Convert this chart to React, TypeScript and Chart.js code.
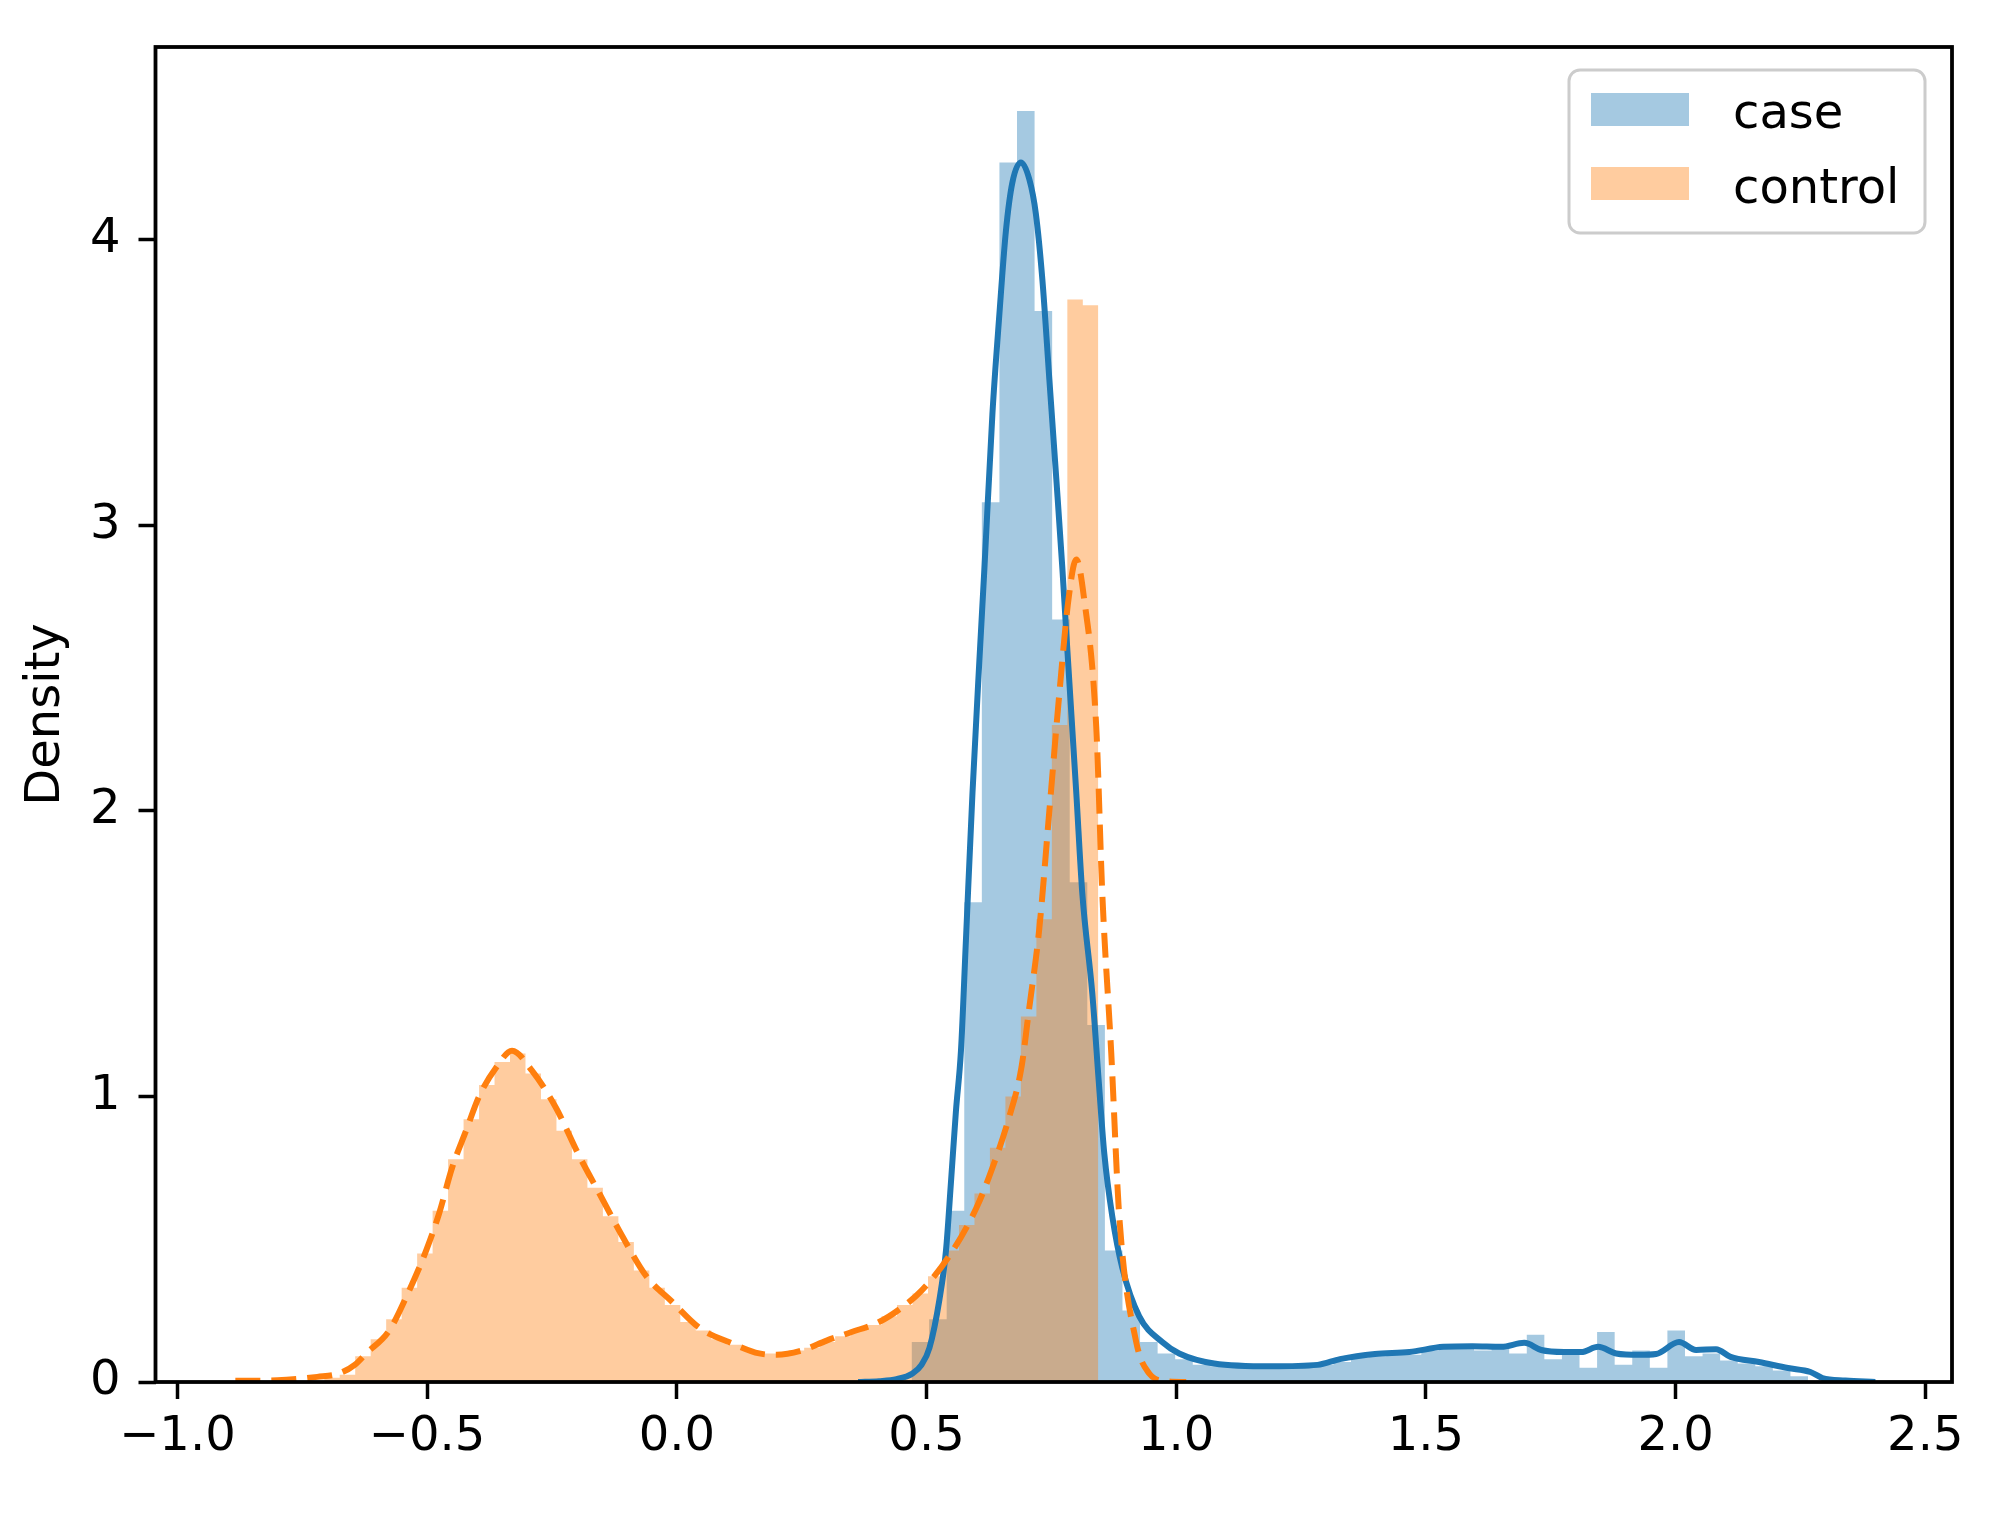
import React, { useEffect, useRef } from "react";
import { Chart, registerables } from "chart.js";

Chart.register(...registerables);

const FONT = "'DejaVu Sans', 'Liberation Sans', sans-serif";

// Axis ticks
const xTicks = [-1.0, -0.5, 0.0, 0.5, 1.0, 1.5, 2.0, 2.5];
const yTicks = [0, 1, 2, 3, 4];
const xRange = [-1.0439, 2.5535];
const yRange = [0, 4.674];
const yLabel = "Density";
const seriesLabels = ["case", "control"];

// Histogram of "case" (bin start, bin width, densities)
const caseBinStart = 0.47;
const caseBinWidth = 0.0352;
const caseHist = [
  0.14, 0.22, 0.6, 1.68, 3.08, 4.27, 4.45, 3.75, 2.67, 1.75,
  1.25, 0.46, 0.25, 0.14, 0.1, 0.08, 0.06, 0.055, 0.05, 0.055,
  0.05, 0.055, 0.06, 0.06, 0.07, 0.085, 0.09, 0.1, 0.095, 0.11,
  0.12, 0.13, 0.11, 0.12, 0.1, 0.165, 0.08, 0.11, 0.05, 0.175,
  0.06, 0.11, 0.05, 0.18, 0.09, 0.1, 0.075, 0.065, 0.055, 0.04,
  0.02,
];

// Histogram of "control"
const controlBinStart = -0.706;
const controlBinWidth = 0.031;
const controlHist = [
  0.015, 0.025, 0.09, 0.15, 0.22, 0.33, 0.45, 0.6, 0.78, 0.92,
  1.04, 1.12, 1.15, 1.08, 0.99, 0.88, 0.78, 0.68, 0.58, 0.49,
  0.39, 0.33, 0.27, 0.21, 0.18, 0.15, 0.13, 0.11, 0.1, 0.1,
  0.11, 0.12, 0.14, 0.16, 0.18, 0.2, 0.23, 0.27, 0.31, 0.37,
  0.46, 0.55, 0.66, 0.82, 1.0, 1.28, 1.62, 2.3, 3.79, 3.77,
];

// KDE curves [x, density]
const caseKde: [number, number][] = [
  [0.363, 0], [0.405, 0.003], [0.44, 0.01], [0.472, 0.03], [0.49, 0.06],
  [0.506, 0.12], [0.526, 0.29], [0.539, 0.46], [0.549, 0.7], [0.559, 0.95],
  [0.569, 1.16], [0.579, 1.55], [0.592, 2.06], [0.606, 2.53], [0.616, 2.85],
  [0.632, 3.39], [0.646, 3.74], [0.659, 4.03], [0.672, 4.2], [0.689, 4.27],
  [0.706, 4.21], [0.719, 4.09], [0.732, 3.86], [0.746, 3.51], [0.76, 3.16],
  [0.772, 2.85], [0.78, 2.62], [0.8, 2.06], [0.812, 1.71], [0.832, 1.36],
  [0.845, 1.05], [0.856, 0.8], [0.872, 0.58], [0.892, 0.4], [0.926, 0.23],
  [0.972, 0.14], [1.006, 0.1], [1.076, 0.065], [1.19, 0.055], [1.283, 0.06],
  [1.328, 0.08], [1.398, 0.098], [1.467, 0.105], [1.535, 0.123], [1.593, 0.125],
  [1.651, 0.123], [1.697, 0.137], [1.731, 0.112], [1.777, 0.105], [1.811, 0.105],
  [1.845, 0.123], [1.881, 0.1], [1.927, 0.095], [1.961, 0.098], [2.007, 0.14],
  [2.041, 0.112], [2.081, 0.115], [2.11, 0.088], [2.167, 0.07], [2.225, 0.049],
  [2.27, 0.035], [2.294, 0.014], [2.34, 0.005], [2.4, 0],
];

const controlKde: [number, number][] = [
  [-0.884, 0.004], [-0.8, 0.006], [-0.72, 0.018], [-0.676, 0.03], [-0.645, 0.06],
  [-0.622, 0.1], [-0.576, 0.18], [-0.536, 0.32], [-0.502, 0.46], [-0.476, 0.59],
  [-0.45, 0.75], [-0.422, 0.88], [-0.396, 1.0], [-0.362, 1.1], [-0.33, 1.16],
  [-0.29, 1.09], [-0.242, 0.96], [-0.195, 0.79], [-0.155, 0.66], [-0.109, 0.51],
  [-0.061, 0.37], [-0.009, 0.28], [0.045, 0.19], [0.111, 0.135], [0.165, 0.1],
  [0.2, 0.095], [0.25, 0.11], [0.3, 0.145], [0.35, 0.175], [0.405, 0.21],
  [0.45, 0.26], [0.49, 0.32], [0.545, 0.44], [0.6, 0.61], [0.632, 0.75],
  [0.666, 0.93], [0.69, 1.1], [0.705, 1.3], [0.726, 1.59], [0.746, 2.0],
  [0.766, 2.41], [0.785, 2.75], [0.8, 2.88], [0.815, 2.75], [0.84, 2.29],
  [0.852, 1.71], [0.87, 1.15], [0.886, 0.58], [0.92, 0.14], [0.946, 0.03],
  [0.98, 0.003], [1.02, 0],
];

const C0 = "#1f77b4";
const C1 = "#ff7f0e";
const C0_FILL = "rgba(31,119,180,0.4)";
const C1_FILL = "rgba(255,127,14,0.4)";

function histPoints(start: number, width: number, heights: number[]) {
  const pts: { x: number; y: number }[] = [{ x: start, y: 0 }];
  heights.forEach((h, i) => pts.push({ x: start + i * width, y: h }));
  const end = start + heights.length * width;
  pts.push({ x: end, y: heights[heights.length - 1] });
  pts.push({ x: end, y: 0 });
  return pts;
}

function kdePoints(arr: [number, number][]) {
  return arr.map(([x, y]) => ({ x, y }));
}

function fmtX(v: number) {
  const s = Math.abs(v).toFixed(1);
  return v < -1e-9 ? "\u2212" + s : s;
}

const framePlugin = {
  id: "frame",
  afterDatasetsDraw(chart: any) {
    const { ctx, chartArea: a } = chart;
    ctx.save();
    ctx.strokeStyle = "#000";
    ctx.lineWidth = 3.8;
    ctx.strokeRect(a.left, a.top, a.right - a.left, a.bottom - a.top);
    ctx.restore();
  },
};

const boxLegendPlugin = {
  id: "boxLegend",
  afterDraw(chart: any) {
    const { ctx, chartArea: a } = chart;
    const items = chart.data.datasets.filter((d: any) => d.isHist);
    const boxW = 356;
    const boxH = 163;
    const bx = a.right - 27 - boxW;
    const by = a.top + 23;
    const r = 11;
    ctx.save();
    ctx.beginPath();
    ctx.moveTo(bx + r, by);
    ctx.lineTo(bx + boxW - r, by);
    ctx.arcTo(bx + boxW, by, bx + boxW, by + r, r);
    ctx.lineTo(bx + boxW, by + boxH - r);
    ctx.arcTo(bx + boxW, by + boxH, bx + boxW - r, by + boxH, r);
    ctx.lineTo(bx + r, by + boxH);
    ctx.arcTo(bx, by + boxH, bx, by + boxH - r, r);
    ctx.lineTo(bx, by + r);
    ctx.arcTo(bx, by, bx + r, by, r);
    ctx.closePath();
    ctx.fillStyle = "rgba(255,255,255,0.8)";
    ctx.fill();
    ctx.strokeStyle = "#cccccc";
    ctx.lineWidth = 3;
    ctx.stroke();
    ctx.font = `48px ${FONT}`;
    ctx.textAlign = "left";
    ctx.textBaseline = "alphabetic";
    items.forEach((d: any, i: number) => {
      const py = by + 23 + i * 74;
      ctx.fillStyle = d.backgroundColor;
      ctx.fillRect(bx + 22, py, 98, 33);
      ctx.fillStyle = "#000";
      ctx.fillText(d.label, bx + 164, by + 58 + i * 75);
    });
    ctx.restore();
  },
};

export default function App() {
  const ref = useRef<HTMLCanvasElement>(null);

  useEffect(() => {
    document.body.style.margin = "0";
    const canvas = ref.current;
    if (!canvas) return;
    const tickFont = { family: FONT, size: 48, lineHeight: 1 };
    const chart = new Chart(canvas, {
      type: "line",
      data: {
        datasets: [
          {
            label: seriesLabels[0],
            isHist: true,
            data: histPoints(caseBinStart, caseBinWidth, caseHist),
            stepped: "before",
            fill: "origin",
            backgroundColor: C0_FILL,
            borderColor: "rgba(0,0,0,0)",
            borderWidth: 0,
            pointRadius: 0,
            order: 4,
          },
          {
            label: seriesLabels[1],
            isHist: true,
            data: histPoints(controlBinStart, controlBinWidth, controlHist),
            stepped: "before",
            fill: "origin",
            backgroundColor: C1_FILL,
            borderColor: "rgba(0,0,0,0)",
            borderWidth: 0,
            pointRadius: 0,
            order: 3,
          },
          {
            label: seriesLabels[0] + " kde",
            data: kdePoints(caseKde),
            borderColor: C0,
            borderWidth: 6,
            pointRadius: 0,
            fill: false,
            cubicInterpolationMode: "monotone",
            order: 2,
          },
          {
            label: seriesLabels[1] + " kde",
            data: kdePoints(controlKde),
            borderColor: C1,
            borderWidth: 6,
            borderDash: [25, 11],
            pointRadius: 0,
            fill: false,
            cubicInterpolationMode: "monotone",
            order: 1,
          },
        ] as any,
      },
      options: {
        animation: false,
        responsive: false,
        events: [],
        layout: { padding: { top: 47, right: 38, left: 0, bottom: 0 } },
        plugins: {
          legend: { display: false },
          tooltip: { enabled: false },
        },
        scales: {
          x: {
            type: "linear",
            min: xRange[0],
            max: xRange[1],
            afterBuildTicks: (scale: any) => {
              scale.ticks = xTicks.map((v) => ({ value: v }));
            },
            afterFit: (scale: any) => {
              scale.height = 131;
            },
            grid: {
              display: true,
              drawOnChartArea: false,
              drawTicks: true,
              tickLength: 17,
              tickWidth: 3.5,
              tickColor: "#000",
            },
            border: { display: false },
            ticks: {
              autoSkip: false,
              maxRotation: 0,
              minRotation: 0,
              padding: 15,
              color: "#000",
              font: tickFont,
              callback: (v: any) => fmtX(Number(v)),
            },
          },
          y: {
            type: "linear",
            min: yRange[0],
            max: yRange[1],
            afterBuildTicks: (scale: any) => {
              scale.ticks = yTicks.map((v) => ({ value: v }));
            },
            afterFit: (scale: any) => {
              scale.width = 155.5;
            },
            grid: {
              display: true,
              drawOnChartArea: false,
              drawTicks: true,
              tickLength: 17,
              tickWidth: 3.5,
              tickColor: "#000",
            },
            border: { display: false },
            ticks: {
              autoSkip: false,
              padding: 18,
              color: "#000",
              font: tickFont,
              callback: (v: any) => String(v),
            },
            title: {
              display: true,
              text: yLabel,
              color: "#000",
              font: { family: FONT, size: 48 },
              padding: { top: 18, bottom: 0 },
            },
          },
        },
      } as any,
      plugins: [framePlugin, boxLegendPlugin],
    });
    return () => chart.destroy();
  }, []);

  return (
    <div style={{ width: 1990, height: 1513 }}>
      <canvas
        ref={ref}
        width={1990}
        height={1513}
        style={{ display: "block", width: 1990, height: 1513 }}
      />
    </div>
  );
}
